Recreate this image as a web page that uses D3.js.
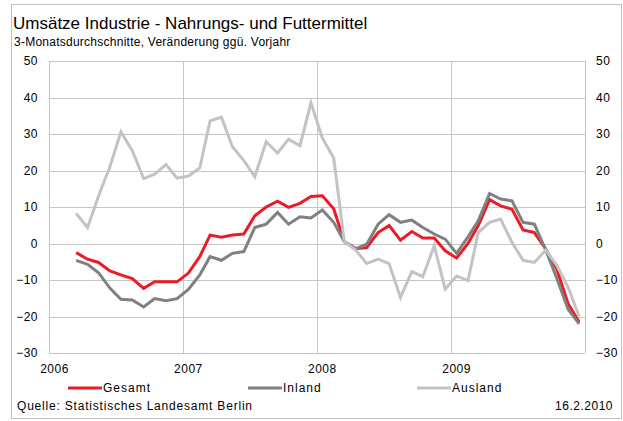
<!DOCTYPE html>
<html>
<head>
<meta charset="utf-8">
<script src="https://cdnjs.cloudflare.com/ajax/libs/d3/7.8.5/d3.min.js"></script>
<style>
  body { margin: 0; background: #fff; }
  svg { display: block; font-family: "Liberation Sans", Arial, sans-serif; }
  .tick text { fill: #000; }
</style>
</head>
<body>
<div id="chart"></div>
<script>
// first month of the series (March 2006), one value per month up to Dec 2009
const startYear = 2006, startMonth = 2;
const yearTicks = [2006, 2007, 2008, 2009];
const valueTicks = [-30, -20, -10, 0, 10, 20, 30, 40, 50];

const gesamt = [-2.5, -4.3, -5.2, -7.5, -8.6, -9.6, -12.3, -10.5, -10.5, -10.5,
  -8.1, -3.6, 2.3, 1.7, 2.3, 2.6, 7.6, 10, 11.6, 9.9, 11, 12.9, 13.1, 9.5,
  0.5, -1.4, -1.1, 3, 4.9, 0.9, 3.3, 1.5, 1.5, -2, -4, 0, 4.9, 12, 10.3, 9.4,
  3.7, 3, -1.5, -7, -16.5, -21.5];
const inland = [-4.6, -5.7, -8, -12.2, -15.3, -15.5, -17.4, -15.1, -15.7, -15.1,
  -12.6, -8.6, -3.6, -4.6, -2.7, -2.2, 4.4, 5.3, 8.5, 5.3, 7.3, 7, 9.2, 5.8,
  0.5, -1.5, -0.2, 5.3, 7.9, 5.8, 6.4, 4.4, 2.6, 1.2, -2.7, 1.8, 6.2, 13.7, 12.2, 11.7,
  5.8, 5.3, -1.8, -9.5, -18, -22];
const ausland = [8.2, 4.4, 13, 21, 30.6, 25.4, 17.8, 19, 21.6, 17.9,
  18.5, 20.7, 33.6, 34.6, 26.5, 22.7, 18.3, 27.9, 24.8, 28.6, 26.8, 38.5, 28.9, 23.4,
  0.5, -1.8, -5.5, -4.3, -5.5, -14.8, -7.7, -9.1, -0.6, -12.5, -8.9, -10.2, 3, 5.8, 6.7, 0.3,
  -4.6, -5.2, -1.8, -6, -12, -20];

const series = [
  { name: "Gesamt", values: gesamt, color: "#ed1c24" },
  { name: "Inland", values: inland, color: "#808080" },
  { name: "Ausland", values: ausland, color: "#c3c3c3" }
];

const W = 623, H = 421;
const margin = { top: 61, right: 38, bottom: 68, left: 49 };
const width = W - margin.left - margin.right,
      height = H - margin.top - margin.bottom;

const svg = d3.select("#chart").append("svg")
  .attr("width", W)
  .attr("height", H);

svg.append("rect")
  .attr("width", W).attr("height", H)
  .attr("fill", "#fff");

// outer frame
svg.append("rect")
  .attr("x", 11.5).attr("y", 4.5)
  .attr("width", 610).attr("height", 414)
  .attr("fill", "none")
  .attr("stroke", "#c0c0c0");

svg.append("text")
  .attr("x", 13).attr("y", 29)
  .style("font-size", "17px")
  .text("Umsätze Industrie - Nahrungs- und Futtermittel");

svg.append("text")
  .attr("x", 14).attr("y", 46)
  .style("font-size", "12px")
  .style("letter-spacing", "0.25px")
  .text("3-Monatsdurchschnitte, Veränderung ggü. Vorjahr");

const g = svg.append("g")
  .attr("transform", "translate(" + margin.left + "," + margin.top + ")");

const x = d3.scaleTime()
  .domain([new Date(2006, 0, 1), new Date(2010, 0, 1)])
  .range([0, width]);

const y = d3.scaleLinear()
  .domain([-30, 50])
  .range([height, 0]);

// grid
g.selectAll(".hgrid")
  .data(valueTicks)
  .enter().append("line")
  .attr("x1", 0).attr("x2", width)
  .attr("y1", d => Math.round(y(d)) + 0.5)
  .attr("y2", d => Math.round(y(d)) + 0.5)
  .attr("stroke", "#c6c6c6");

g.selectAll(".vgrid")
  .data(yearTicks.concat([2010]))
  .enter().append("line")
  .attr("x1", d => Math.round(x(new Date(d, 0, 1))) + 0.5)
  .attr("x2", d => Math.round(x(new Date(d, 0, 1))) + 0.5)
  .attr("y1", 0).attr("y2", height)
  .attr("stroke", "#c6c6c6");

// axes
const yLeft = g.append("g")
  .call(d3.axisLeft(y).tickValues(valueTicks).tickSize(0).tickPadding(11));
const yRight = g.append("g")
  .attr("transform", "translate(" + width + ",0)")
  .call(d3.axisRight(y).tickValues(valueTicks).tickSize(0).tickPadding(11));
const xAxis = g.append("g")
  .attr("transform", "translate(0," + height + ")")
  .call(d3.axisBottom(x)
    .tickValues(yearTicks.map(d => new Date(d, 0, 1)))
    .tickFormat(d3.timeFormat("%Y"))
    .tickSize(0).tickPadding(11));

[yLeft, yRight, xAxis].forEach(a => {
  a.select(".domain").remove();
  a.selectAll("text")
    .style("font-size", "12px")
    .style("letter-spacing", "0.5px")
    .style("font-family", "\"Liberation Sans\", Arial, sans-serif");
});
xAxis.selectAll("text").attr("dx", 5);

// lines
const monthDate = i => new Date(startYear, startMonth + i, 16);
const line = d3.line()
  .x((d, i) => x(monthDate(i)))
  .y(d => y(d));

g.selectAll(".series")
  .data(series)
  .enter().append("path")
  .attr("d", d => line(d.values))
  .attr("fill", "none")
  .attr("stroke", d => d.color)
  .attr("stroke-width", 3)
  .attr("stroke-linejoin", "miter");

// legend
const legendX = [68, 248, 417];
const legend = svg.selectAll(".legend")
  .data(series)
  .enter().append("g")
  .attr("transform", (d, i) => "translate(" + legendX[i] + ",388)");
legend.append("line")
  .attr("x1", 0).attr("x2", 34)
  .attr("stroke", d => d.color)
  .attr("stroke-width", 3);
legend.append("text")
  .attr("x", 35).attr("y", 4)
  .style("font-size", "12px")
  .style("letter-spacing", "1px")
  .text(d => d.name);

svg.append("text")
  .attr("x", 17).attr("y", 410)
  .style("font-size", "12px")
  .style("letter-spacing", "0.8px")
  .text("Quelle: Statistisches Landesamt Berlin");

svg.append("text")
  .attr("x", 613).attr("y", 410)
  .attr("text-anchor", "end")
  .style("font-size", "12px")
  .style("letter-spacing", "0.5px")
  .text("16.2.2010");
</script>
</body>
</html>
